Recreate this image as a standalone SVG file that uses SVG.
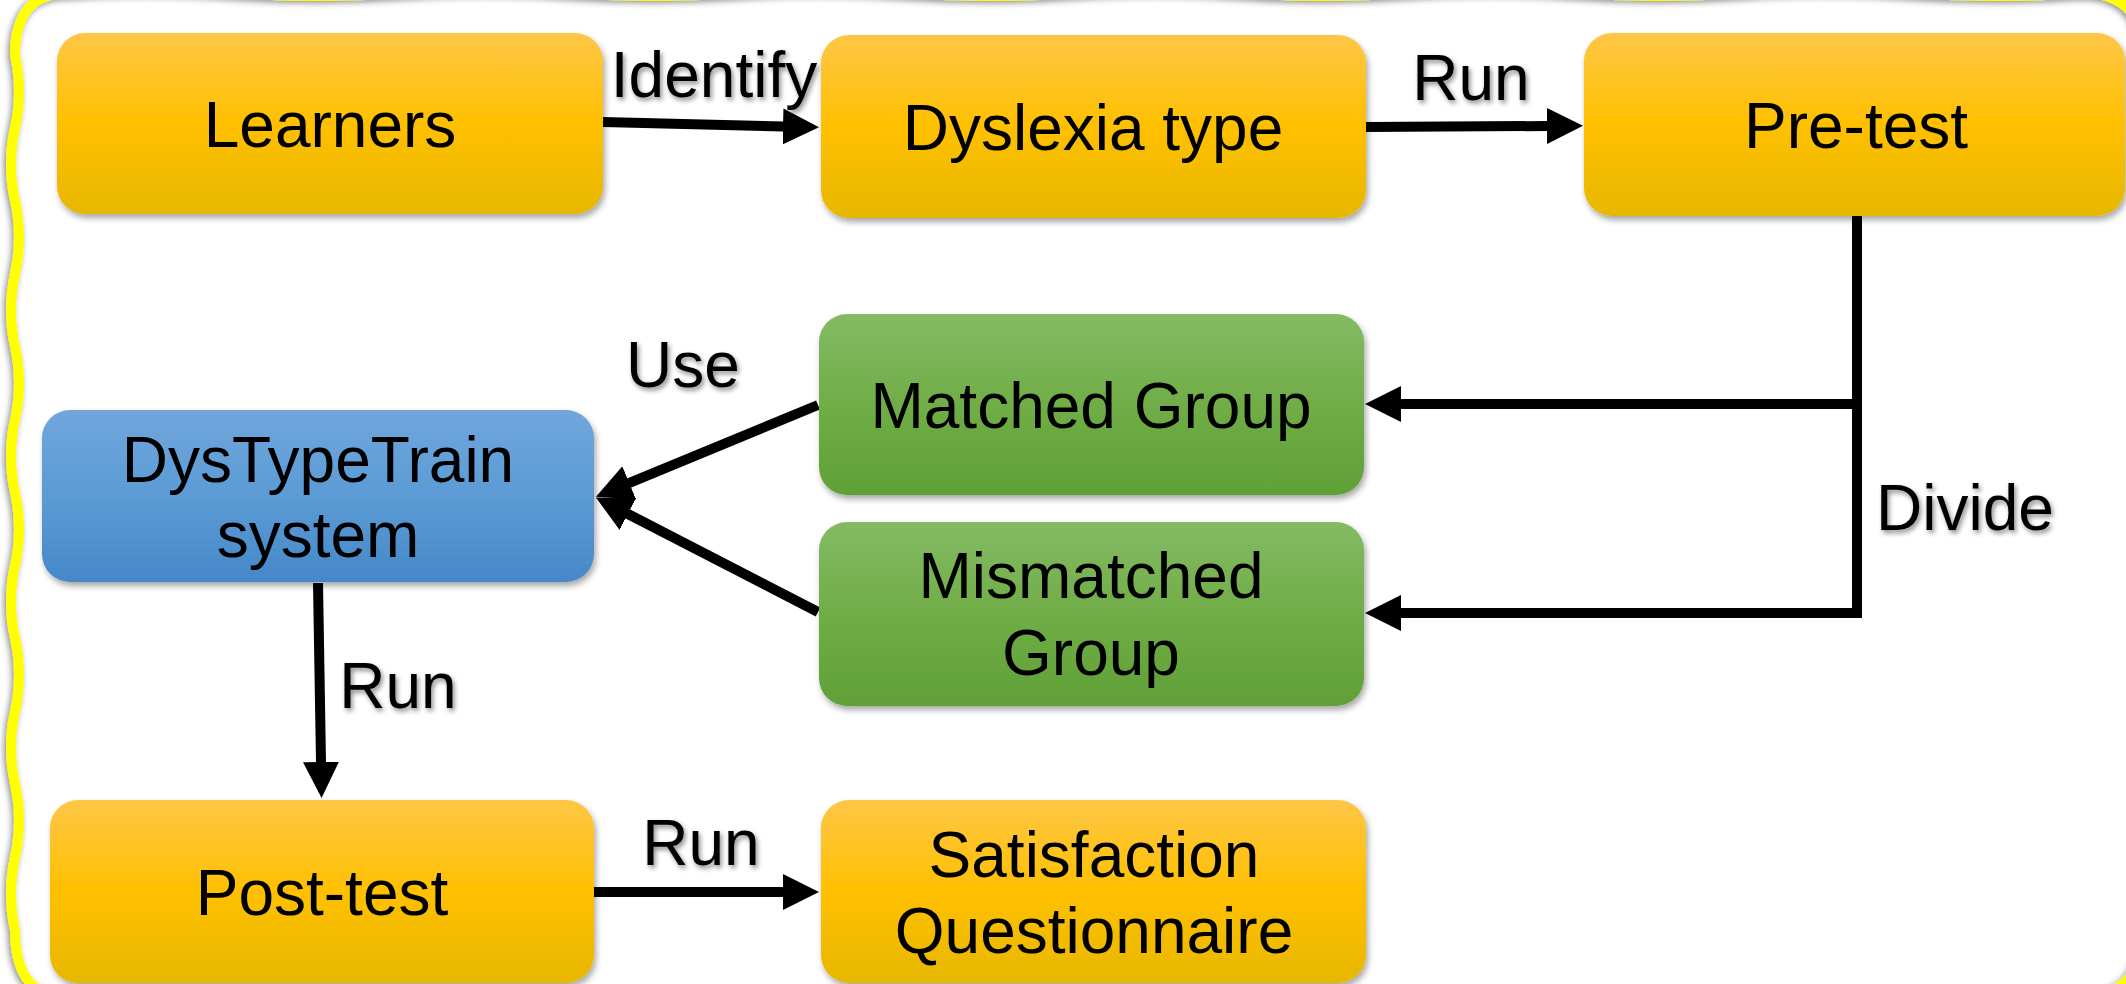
<svg xmlns="http://www.w3.org/2000/svg" width="2126" height="984" viewBox="0 0 2126 984">
<defs>
<linearGradient id="gO" x1="0" y1="0" x2="0" y2="1">
<stop offset="0" stop-color="#FEC647"/><stop offset="0.5" stop-color="#FFC000"/><stop offset="1" stop-color="#E7B700"/>
</linearGradient>
<linearGradient id="gG" x1="0" y1="0" x2="0" y2="1">
<stop offset="0" stop-color="#84BA65"/><stop offset="0.5" stop-color="#70AD47"/><stop offset="1" stop-color="#60A036"/>
</linearGradient>
<linearGradient id="gB" x1="0" y1="0" x2="0" y2="1">
<stop offset="0" stop-color="#71A6DC"/><stop offset="0.5" stop-color="#5B9BD5"/><stop offset="1" stop-color="#4688C8"/>
</linearGradient>
<filter id="sh" x="-10%" y="-10%" width="120%" height="130%">
<feDropShadow dx="2" dy="4" stdDeviation="3" flood-color="#000" flood-opacity="0.35"/>
</filter>
<filter id="tsh" x="-10%" y="-20%" width="130%" height="150%">
<feDropShadow dx="2" dy="3" stdDeviation="2.5" flood-color="#000" flood-opacity="0.45"/>
</filter>
<filter id="bsh" x="-5%" y="-5%" width="110%" height="110%">
<feDropShadow dx="-2" dy="2" stdDeviation="3" flood-color="#000" flood-opacity="0.45"/>
</filter>
<marker id="ah" viewBox="0 0 36 36" markerWidth="36" markerHeight="36" refX="1" refY="18" orient="auto" markerUnits="userSpaceOnUse">
<path d="M0,0 L36,18 L0,36 Z" fill="#000"/>
</marker>
<style>
.node rect{filter:url(#sh);}
.o{fill:url(#gO);}
.g{fill:url(#gG);}
.b{fill:url(#gB);}
text{font-family:"Liberation Sans",Arial,sans-serif;font-size:64px;fill:#000;text-anchor:middle;}
.lbl{filter:url(#tsh);}
.edge{fill:none;stroke:#000;stroke-width:10;stroke-linecap:butt;}
.arr{marker-end:url(#ah);}
</style>
</defs>
<rect x="0" y="0" width="2126" height="984" fill="#FFFFFF"/>
<path id="border" filter="url(#bsh)" fill="none" stroke="#FFFF00" stroke-width="10" d="M68,-7 Q151.75,-13 235.5,-7 T403,-7 T570.5,-7 T738,-7 T905.5,-7 T1073,-7 T1240.5,-7 T1408,-7 T1575.5,-7 T1743,-7 T1910.5,-7 T2082,-7 Q2142,-7 2142,52 L2142,935 Q2142,996 2082,996 L65,996 Q15,996 15,930 Q7,893.5 15,857.1 T15,784.2 T15,711.3 T15,638.3 T15,565.4 T15,492.5 T15,419.6 T15,346.7 T15,273.8 T15,200.8 T15,127.9 T15,55 Q15,-7 68,-7 Z"/>

<g id="connectors">
<path class="edge arr" d="M603,122 L784,126.5"/>
<path class="edge arr" d="M1366,127 L1548,126"/>
<path class="edge" d="M1857,216 V618"/>
<path class="edge arr" d="M1862,404 H1400"/>
<path class="edge arr" d="M1862,613 H1400"/>
<path class="edge arr" d="M818,405 L628.3,483.3"/>
<path class="edge arr" d="M818,612 L627,513.5"/>
<path class="edge arr" d="M318,583 L321,763"/>
<path class="edge arr" d="M594,892 L784,892"/>
</g>

<g id="labels">
<text class="lbl" x="714" y="97">Identify</text>
<text class="lbl" x="1471" y="100">Run</text>
<text class="lbl" x="683" y="387">Use</text>
<text class="lbl" x="1876" y="530" style="text-anchor:start">Divide</text>
<text class="lbl" x="398" y="708">Run</text>
<text class="lbl" x="701" y="865">Run</text>
</g>

<g id="n-learners" class="node">
<rect class="o" x="57" y="33" width="546" height="181" rx="28"/>
<text x="330" y="147">Learners</text>
</g>
<g id="n-dyslexia" class="node">
<rect class="o" x="821" y="35" width="545" height="183" rx="28"/>
<text x="1093" y="150">Dyslexia type</text>
</g>
<g id="n-pretest" class="node">
<rect class="o" x="1584" y="33" width="541" height="183" rx="28"/>
<text x="1856" y="148">Pre-test</text>
</g>
<g id="n-matched" class="node">
<rect class="g" x="819" y="314" width="545" height="181" rx="28"/>
<text x="1091" y="428">Matched Group</text>
</g>
<g id="n-mismatched" class="node">
<rect class="g" x="819" y="522" width="545" height="184" rx="28"/>
<text x="1091" y="598">Mismatched</text>
<text x="1091" y="675">Group</text>
</g>
<g id="n-dystypetrain" class="node">
<rect class="b" x="42" y="410" width="552" height="172" rx="28"/>
<text x="318" y="482">DysTypeTrain</text>
<text x="318" y="557">system</text>
</g>
<g id="n-posttest" class="node">
<rect class="o" x="50" y="800" width="544" height="183" rx="28"/>
<text x="322" y="915">Post-test</text>
</g>
<g id="n-satisfaction" class="node">
<rect class="o" x="821" y="800" width="545" height="183" rx="28"/>
<text x="1094" y="877">Satisfaction</text>
<text x="1094" y="953">Questionnaire</text>
</g>
</svg>
